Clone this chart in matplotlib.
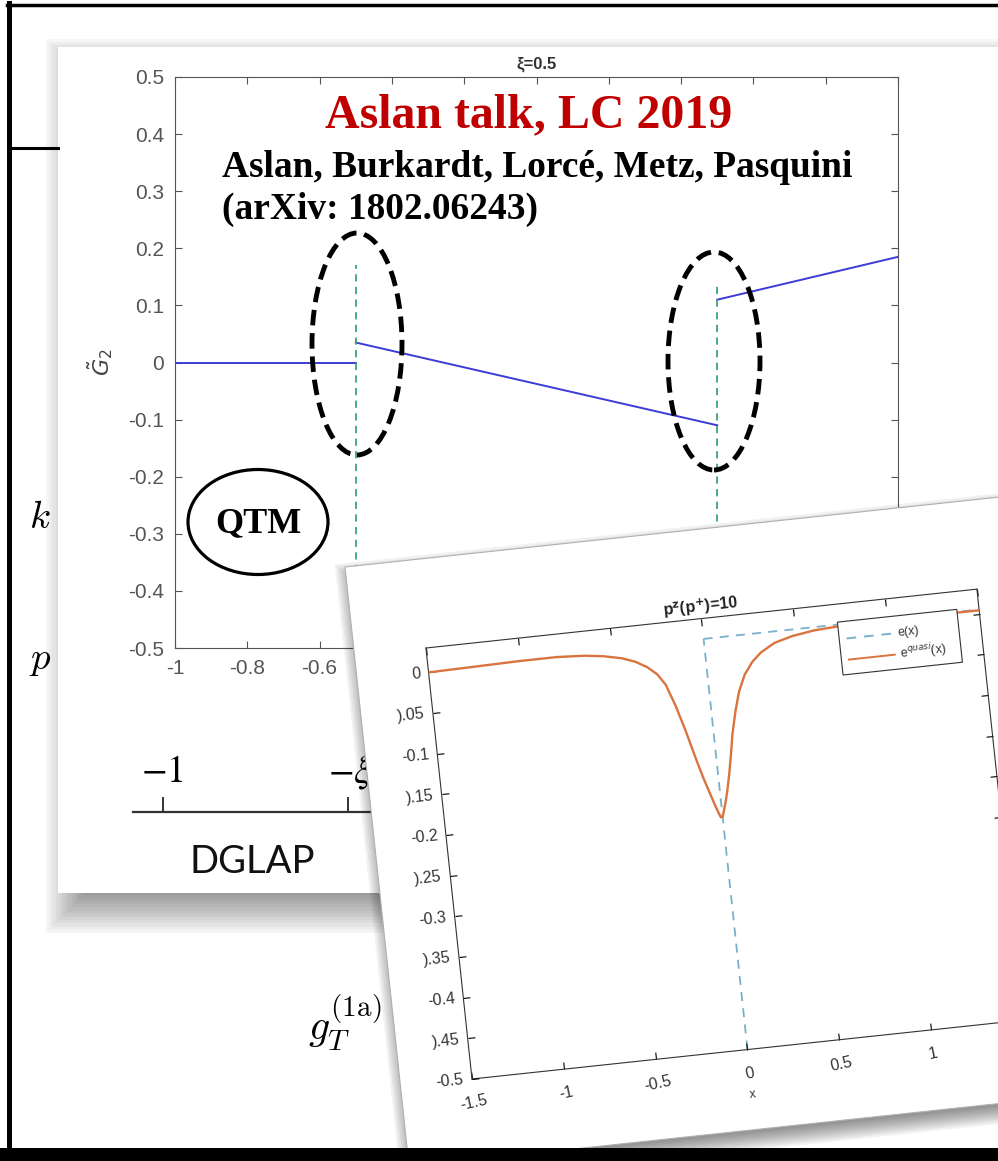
import numpy as np
import matplotlib
matplotlib.use("Agg")
import matplotlib.pyplot as plt
import matplotlib.patches as mpatches
from matplotlib.transforms import Affine2D
from mpl_toolkits.axisartist import floating_axes
from mpl_toolkits.axisartist.grid_finder import FixedLocator, DictFormatter

plt.rcParams['font.family'] = ['Liberation Sans', 'DejaVu Sans']

W, H = 998, 1161

# ---- back panel: G~_2 at xi=0.5 (three separate pieces)
g2_seg_x = [[-1.0, -0.5], [-0.5, 0.5], [0.5, 1.0]]
g2_seg_y = [[0.0, 0.0], [0.035, -0.11], [0.11, 0.185]]
xi_lines_x = [-0.5, 0.5]
xi_lines_top = [0.17, 0.14]
p1_xticks = [-1, -0.8, -0.6, -0.4, -0.2, 0, 0.2, 0.4, 0.6, 0.8, 1]
p1_xlabels = ["-1", "-0.8", "-0.6", "-0.4", "-0.2", "0", "0.2", "0.4", "0.6", "0.8", "1"]
p1_yticks = [-0.5, -0.4, -0.3, -0.2, -0.1, 0, 0.1, 0.2, 0.3, 0.4, 0.5]
p1_ylabels = ["-0.5", "-0.4", "-0.3", "-0.2", "-0.1", "0", "0.1", "0.2", "0.3", "0.4", "0.5"]
P1_XLIM = (-1, 1)
P1_YLIM = (-0.5, 0.5)

# ---- front panel: e(x) and quasi-PDF, p^z = 10
eq_x = [-1.5, -1.25, -1.0, -0.8, -0.65, -0.55, -0.45, -0.38, -0.32, -0.27, -0.23,
        -0.19, -0.15, -0.11, -0.08, -0.05, -0.035, -0.02, -0.01, 0.0, 0.01, 0.025, 0.04,
        0.06, 0.08, 0.1, 0.13, 0.16, 0.2, 0.25, 0.3, 0.38, 0.48, 0.6, 0.75, 0.9,
        1.1, 1.3, 1.5]
eq_y = [0.0, 0.001, 0.002, 0.002, 0.0, -0.003, -0.008, -0.014, -0.022, -0.032, -0.046,
        -0.072, -0.104, -0.14, -0.165, -0.187, -0.198, -0.208, -0.214, -0.214, -0.207, -0.196,
        -0.183, -0.163, -0.14, -0.115, -0.087, -0.064, -0.044, -0.029, -0.019, -0.009, -0.003,
        0.001, 0.003, 0.004, 0.004, 0.004, 0.004]
e_x = [0.0, 1.5]
e_y = [0.005, 0.005]
delta_x = 0.0
p2_xticks = [-1.5, -1, -0.5, 0, 0.5, 1, 1.5]
p2_xlabels = ["-1.5", "-1", "-0.5", "0", "0.5", "1", "1.5"]
p2_yticks = [0, -0.05, -0.1, -0.15, -0.2, -0.25, -0.3, -0.35, -0.4, -0.45, -0.5]
p2_ylabels = ["0", ").05", "-0.1", ").15", "-0.2", ").25", "-0.3", ").35", "-0.4", ").45", "-0.5"]
P2_XLIM = (-1.5, 1.5)
P2_YLIM = (-0.5, 0.03)

# layout of the pasted, tilted screenshot (pixels)
ANG = 6.1
SX, SY = 184.7, 817.8


def Y(yi):
    # image row -> figure pixel (y up)
    return H - yi


def overlay(z):
    a = fig.add_axes([0, 0, 1, 1])
    a.set_xlim(0, W)
    a.set_ylim(0, H)
    a.axis('off')
    a.set_zorder(z)
    return a


def shadow(ax, x, y, w, h, ang, dx, dy, blur, n, alpha):
    th = np.deg2rad(ang)
    u = np.array([np.cos(th), np.sin(th)])
    v = np.array([-np.sin(th), np.cos(th)])
    for i in range(n):
        m = blur - 2 * blur * i / (n - 1)
        ll = np.array([x + dx, y + dy]) - m * u - m * v
        ax.add_patch(mpatches.Rectangle(ll, w + 2 * m, h + 2 * m, angle=ang,
                                        fc='k', ec='none', alpha=alpha))


fig = plt.figure(figsize=(W / 100, H / 100), dpi=100)

# slide background
bg = overlay(0)
bg.plot([10, 58], [Y(147.5)] * 2, color='k', lw=2.2)
bg.text(40, Y(518), r'$k$', math_fontfamily='cm', fontsize=28, ha='center', va='center')
bg.text(40, Y(660), r'$p$', math_fontfamily='cm', fontsize=28, ha='center', va='center')
bg.text(308, Y(1040), r'$g_T^{(1\mathrm{a})}$', math_fontfamily='cm', fontsize=30,
        ha='left', va='baseline')

# back panel paper
shadow(bg, 58, Y(893), 960, 846, 0, 12, -16, 24, 16, 0.035)
bg.add_patch(mpatches.Rectangle((58, Y(893)), 960, 846, fc='white', ec='none'))
bg.text(162, Y(772), r'$-1$', math_fontfamily='stix', fontsize=27, ha='center', va='center')
bg.text(350, Y(772), r'$-\xi$', math_fontfamily='stix', fontsize=27, ha='center', va='center')
bg.plot([133, 372], [Y(812)] * 2, color='#333333', lw=1.6)
bg.vlines([163, 348], Y(812), Y(797), color='#333333', lw=1.4)
bg.text(252, Y(862), 'DGLAP', family='Lato', fontsize=27.5, ha='center', va='center',
        color='#111111')

# back panel plot
ax1 = fig.add_axes([175 / W, Y(648) / H, 723 / W, 571 / H])
ax1.set_zorder(1)
ax1.set_facecolor('none')
for sx, sy in zip(g2_seg_x, g2_seg_y):
    ax1.plot(sx, sy, color='#3b3bd6', lw=1.4)
ax1.vlines(xi_lines_x, P1_YLIM[0], xi_lines_top, color='#3aa57a', lw=1.3,
           linestyles=(0, (4, 3)))
ax1.set_xlim(*P1_XLIM)
ax1.set_ylim(*P1_YLIM)
ax1.set_xticks(p1_xticks, p1_xlabels)
ax1.set_yticks(p1_yticks, p1_ylabels)
ax1.tick_params(direction='in', top=True, right=True, length=5, color='#555555',
                labelsize=15, labelcolor='#555555', pad=8)
for s in ax1.spines.values():
    s.set_color('#555555')
ax1.set_title('ξ=0.5', fontsize=12, fontweight='bold', color='#333333', pad=6)
ax1.set_ylabel(r'$\tilde{G}_2$', math_fontfamily='dejavusans', fontsize=16, color='#444444')
ax1.yaxis.set_label_coords(-0.083, 0.5)

# annotations on the back panel
ann = overlay(2)
ann.text(529, Y(127), 'Aslan talk, LC 2019', color='#c00000', fontsize=34.5,
         fontweight='bold', family='Liberation Serif', ha='center', va='baseline')
ann.text(222, Y(177), 'Aslan, Burkardt, Lorcé, Metz, Pasquini', fontsize=26.9,
         fontweight='bold', family='Liberation Serif', ha='left', va='baseline')
ann.text(222, Y(219), '(arXiv: 1802.06243)', fontsize=26.9,
         fontweight='bold', family='Liberation Serif', ha='left', va='baseline')
for cx, cy, ew, eh in [(357, 344, 90, 222), (714, 361, 92, 218)]:
    ann.add_patch(mpatches.Ellipse((cx, Y(cy)), ew, eh, fill=False, ec='k', lw=3.5,
                                   linestyle=(0, (3.2, 1.6))))
ann.add_patch(mpatches.Ellipse((258, Y(522)), 140, 105, fill=False, ec='k', lw=2.3))
ann.text(258, Y(524), 'QTM', fontsize=26, fontweight='bold', family='Liberation Serif',
         ha='center', va='center')

# front panel paper (tilted)
mid = overlay(3)
th = np.deg2rad(ANG)
tl = np.array([345, Y(567)])
ph, pw = 603, 700
bl = tl - ph * np.array([-np.sin(th), np.cos(th)])
shadow(mid, bl[0], bl[1], pw, ph, ANG, 3, -8, 12, 12, 0.055)
mid.add_patch(mpatches.Rectangle(bl, pw, ph, angle=ANG, fc='white', ec='#b0b0b0', lw=0.8))

# front panel plot on rotated floating axes
tr = Affine2D().scale(SX, SY).rotate_deg(ANG)
corners = tr.transform([(P2_XLIM[0], P2_YLIM[0]), (P2_XLIM[1], P2_YLIM[0]),
                        (P2_XLIM[1], P2_YLIM[1]), (P2_XLIM[0], P2_YLIM[1])])
lo, hi = corners.min(0), corners.max(0)
ctr = (lo + hi) / 2
size = (hi - lo) * 1.02
o = tr.transform([(P2_XLIM[0], P2_YLIM[0])])[0]
origin = np.array([472, Y(1079)])
left = origin[0] - (o[0] - (ctr[0] - size[0] / 2))
bottom = origin[1] - (o[1] - (ctr[1] - size[1] / 2))

gh = floating_axes.GridHelperCurveLinear(
    tr, extremes=(*P2_XLIM, *P2_YLIM),
    grid_locator1=FixedLocator(p2_xticks), grid_locator2=FixedLocator(p2_yticks),
    tick_formatter1=DictFormatter(dict(zip(p2_xticks, p2_xlabels))),
    tick_formatter2=DictFormatter(dict(zip(p2_yticks, p2_ylabels))))
ax2 = fig.add_axes([left / W, bottom / H, size[0] / W, size[1] / H],
                   axes_class=floating_axes.FloatingAxes, grid_helper=gh)
ax2.set_zorder(4)
for side in ['left', 'right', 'top', 'bottom']:
    ax2.axis[side].line.set_color('#333333')
    ax2.axis[side].major_ticks.set_ticksize(5)
for side in ['right', 'top']:
    ax2.axis[side].major_ticklabels.set_visible(False)
for side in ['left', 'bottom']:
    ax2.axis[side].major_ticklabels.set_fontsize(11.5)
    ax2.axis[side].major_ticklabels.set_color('#333333')
ax2.axis['bottom'].major_ticklabels.set_rotation(ANG)
ax2.axis['left'].major_ticklabels.set_pad(6)
ax2.axis['bottom'].major_ticklabels.set_pad(12)
ax2.axis['bottom'].label.set_text('x')
ax2.axis['bottom'].label.set_fontsize(9)
ax2.axis['bottom'].label.set_color('#333333')
ax2.axis['bottom'].label.set_pad(8)

aux = ax2.get_aux_axes(tr)
aux.patch = ax2.patch
ax2.patch.zorder = 0.9
aux.plot(e_x, e_y, color='#7ab0cc', lw=1.3, dashes=(5, 4), zorder=2)
aux.plot([delta_x, delta_x], [P2_YLIM[0], e_y[0]], color='#7ab0cc', lw=1.3,
         dashes=(5, 4), zorder=2)
aux.plot(eq_x, eq_y, color='#d9743f', lw=1.7, zorder=3)

# legend box (drawn in the tilted frame)
aux.add_patch(mpatches.Rectangle((0.73, -0.057), 0.65, 0.065, fc='white', ec='#333333',
                                 lw=0.8, zorder=5))
leg_rows = [(-0.013, 'e(x)', '#7ab0cc', (5, 4)), (-0.039, r'e$^{quasi}$(x)', '#d9743f', None)]
for ry, lab, col, ds in leg_rows:
    ln, = aux.plot([0.77, 1.02], [ry, ry], color=col, lw=1.4, zorder=6)
    if ds:
        ln.set_dashes(ds)
    aux.text(1.05, ry, lab, fontsize=9, color='#333333', rotation=ANG,
             rotation_mode='anchor', va='center', ha='left', zorder=6)
aux.text(0.0, 0.045, r'p$^\mathbf{z}$(p$^\mathbf{+}$)=10', math_fontfamily='dejavusans',
         fontsize=11.5, fontweight='bold', rotation=ANG, rotation_mode='anchor',
         ha='center', va='center', color='#222222')

# outer slide frame
fr = overlay(5)
fr.plot([9.3, 9.3], [0, Y(3)], color='k', lw=3.6)
fr.plot([7.5, W], [Y(5)] * 2, color='k', lw=2.5)
fr.add_patch(mpatches.Rectangle((0, 0), W, 13, fc='k', ec='none'))

fig.savefig('out.png', dpi=100)
